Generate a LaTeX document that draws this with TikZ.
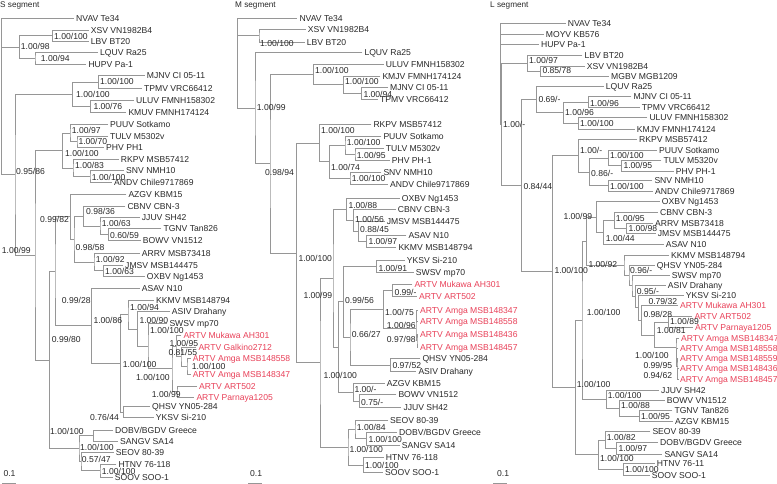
\documentclass[tikz,border=0pt]{standalone}
\usepackage{fontspec}
\setmainfont{Liberation Sans}
\usetikzlibrary{calc}
\definecolor{txt}{RGB}{40,40,40}
\definecolor{brc}{RGB}{150,150,150}
\definecolor{artv}{RGB}{232,64,88}
\tikzset{
 tiplab/.style={anchor=base west, inner sep=0pt, font=\fontsize{8.6}{9}\selectfont, text=txt},
 suplab/.style={anchor=base west, inner sep=0pt, font=\fontsize{8.6}{9}\selectfont, text=txt},
 artvlab/.style={text=artv},
 ttl/.style={anchor=base west, inner sep=0pt, font=\fontsize{8.2}{9}\selectfont, text=txt},
 br/.style={draw=brc, line width=0.7pt},
}
\newcommand\mytip[5][]{\coordinate (#2) at ({#3-2},#4);\node[tiplab,#1] (#2l) at (#3,{#4+3.1}) {#5};}
\newcommand\mylab[4]{\node[suplab] (#1) at (#2,{#3+3.1}) {#4};}
\newcommand\mynode[4]{\path let \p1=($(#3)!.5!(#4)$) in (#2pt,\y1) coordinate (#1);\draw[br] (#3) -| (#1) |- (#4);}
\begin{document}
\begin{tikzpicture}[x=1pt,y=-1pt]
\useasboundingbox (0,0) rectangle (777,484);
% titles
\node[ttl] (tS) at (0,7.7) {S segment};
\node[ttl] (tM) at (235,7.7) {M segment};
\node[ttl] (tL) at (490,7.7) {L segment};
% ===== S tips
\mytip{S0}{76}{18.3}{NVAV Te34}
\mytip{S1}{90.7}{30}{XSV VN1982B4}
\mytip{S2}{90.7}{41.7}{LBV BT20}
\mytip{S3}{100}{52.7}{LQUV Ra25}
\mytip{S4}{88.3}{64}{HUPV Pa-1}
\mytip{S5}{146.7}{75.7}{MJNV CI 05-11}
\mytip{S6}{144}{88.3}{TPMV VRC66412}
\mytip{S7}{136}{100}{ULUV FMNH158302}
\mytip{S8}{128.3}{112.3}{KMUV FMNH174124}
\mytip{S9}{110}{124.7}{PUUV Sotkamo}
\mytip{S10}{110}{136}{TULV M5302v}
\mytip{S11}{106}{147.3}{PHV PH1}
\mytip{S12}{120.7}{159.3}{RKPV MSB57412}
\mytip{S13}{126}{170.7}{SNV NMH10}
\mytip{S14}{114}{182.7}{ANDV Chile9717869}
\mytip{S15}{128.3}{194}{AZGV KBM15}
\mytip{S16}{127.3}{206}{CBNV CBN-3}
\mytip{S17}{141.7}{217.3}{JJUV SH42}
\mytip{S18}{163.3}{228.7}{TGNV Tan826}
\mytip{S19}{142.7}{240.7}{BOWV VN1512}
\mytip{S20}{141.7}{253.3}{ARRV MSB73418}
\mytip{S21}{125}{265}{JMSV MSB144475}
\mytip{S22}{146.7}{276}{OXBV Ng1453}
\mytip{S23}{141.7}{288.3}{ASAV N10}
\mytip{S24}{156}{300}{KKMV MSB148794}
\mytip{S25}{171.7}{311.7}{ASIV Drahany}
\mytip{S26}{169.3}{323.3}{SWSV mp70}
\mytip[artvlab]{S27}{183.3}{335}{ARTV Mukawa AH301}
\mytip[artvlab]{S28}{198.3}{347.3}{ARTV Galkino2712}
\mytip[artvlab]{S29}{192.7}{358.3}{ARTV Amga MSB148558}
\mytip[artvlab]{S30}{192.7}{374}{ARTV Amga MSB148347}
\mytip[artvlab]{S31}{199}{386}{ARTV ART502}
\mytip[artvlab]{S32}{196.3}{397.3}{ARTV Parnaya1205}
\mytip{S33}{152}{406.7}{QHSV YN05-284}
\mytip{S34}{155.7}{417.7}{YKSV Si-210}
\mytip{S35}{115}{430}{DOBV/BGDV Greece}
\mytip{S36}{120}{441}{SANGV SA14}
\mytip{S37}{115.7}{452.7}{SEOV 80-39}
\mytip{S38}{118.3}{464}{HTNV 76-118}
\mytip{S39}{114.7}{477.3}{SOOV SOO-1}
% S tree
\mynode{NSa}{52.3}{S1}{S2}
\mynode{NSb}{35}{S3}{S4}
\mynode{NSc}{19.3}{NSa}{NSb}
\mynode{NSd}{98.3}{S5}{S6}
\mynode{NSe}{90.7}{S7}{S8}
\mynode{NSf}{72.3}{NSd}{NSe}
\mynode{NSg}{77}{S10}{S11}
\mynode{NSh}{70}{S9}{NSg}
\mynode{NSi}{90}{S13}{S14}
\mynode{NSj}{73}{S12}{NSi}
\mynode{NSk}{62.7}{NSh}{NSj}
\mynode{NSl}{108.5}{S18}{S19}
\mynode{NSm}{100}{S17}{NSl}
\mynode{NSn}{83.3}{S16}{NSm}
\mynode{NSq}{103.5}{S21}{S22}
\mynode{NSp}{94}{S20}{NSq}
\mynode{NSX}{74}{NSn}{NSp}
\mynode{NSo}{70.5}{S15}{NSX}
\mynode{NSsa}{187}{S29}{S30}
\mynode{NSsb}{181}{S28}{NSsa}
\mynode{NSsc}{176}{S27}{NSsb}
\mynode{NSsd}{177}{S31}{S32}
\mynode{NSse}{172}{NSsc}{NSsd}
\mynode{NSsf}{148}{S26}{NSse}
\mynode{NSsg}{137.5}{S25}{NSsf}
\mynode{NSsh}{128}{S24}{NSsg}
\mynode{NSt}{123.3}{S33}{S34}
\mynode{NSsi}{120.5}{NSsh}{NSt}
\mynode{NSY}{91.5}{S23}{NSsi}
\mynode{NSW}{55}{NSo}{NSY}
\mynode{NSda}{93.3}{S35}{S36}
\mynode{NSdc}{100}{S38}{S39}
\mynode{NSdb}{81}{S37}{NSdc}
\mynode{NSdd}{79}{NSda}{NSdb}
\mynode{NSP2}{49.3}{NSW}{NSdd}
\mynode{NSP1}{35}{NSk}{NSP2}
\mynode{NSP0}{15}{NSf}{NSP1}
\coordinate (NSR) at (1.7,100);
\draw[br] (NSR) |- (S0) (NSR) |- (NSc) (NSR) |- (NSP0);
% S labels
\mylab{sa}{54}{36}{1.00/100}
\mylab{sb}{20.7}{46.7}{1.00/98}
\mylab{sc}{40.7}{58.3}{1.00/94}
\mylab{sd}{100}{81.7}{1.00/100}
\mylab{se}{76}{94}{1.00/100}
\mylab{sf}{93.3}{106}{1.00/76}
\mylab{sg}{71.7}{130.7}{1.00/97}
\mylab{sh}{78.3}{141.7}{1.00/70}
\mylab{si}{65}{153.3}{1.00/100}
\mylab{sj}{75}{165.7}{1.00/83}
\mylab{sk}{91.7}{177.3}{1.00/100}
\mylab{sl}{16}{171.7}{0.95/86}
\mylab{sm}{40}{219.3}{0.99/82}
\mylab{sn}{86}{211.7}{0.98/36}
\mylab{so}{101.7}{223.3}{1.00/63}
\mylab{sp}{110}{235}{0.60/59}
\mylab{sq}{75.5}{247}{0.98/58}
\mylab{sr}{1.7}{250.7}{1.00/99}
\mylab{ss}{95.7}{259}{1.00/92}
\mylab{st}{105}{271.7}{1.00/63}
\mylab{su}{61.7}{300}{0.99/28}
\mylab{sv}{130}{307.3}{1.00/94}
\mylab{sw}{93.3}{320}{1.00/86}
\mylab{sx}{139.3}{320}{1.00/90}
\mylab{sy}{150}{330}{1.00/100}
\mylab{sz}{169.3}{343.3}{1.00/95}
\mylab{sA}{168.3}{352.7}{0.81/55}
\mylab{sB}{191.7}{366}{1.00/100}
\mylab{sC}{51.7}{339}{0.99/80}
\mylab{sD}{122.7}{364.7}{1.00/100}
\mylab{sE}{136}{377.3}{1.00/100}
\mylab{sF}{151.7}{394.7}{1.00/99}
\mylab{sG}{90}{417.7}{0.76/44}
\mylab{sH}{50}{431}{1.00/100}
\mylab{sI}{80}{447.3}{1.00/100}
\mylab{sJ}{81.7}{459.3}{0.57/47}
\mylab{sK}{101.7}{471}{1.00/100}
% ===== M tips
\mytip{M0}{299.3}{18.3}{NVAV Te34}
\mytip{M1}{307.7}{29.3}{XSV VN1982B4}
\mytip{M2}{306.7}{42.3}{LBV BT20}
\mytip{M3}{364.3}{52.7}{LQUV Ra25}
\mytip{M4}{385.7}{64.3}{ULUV FMNH158302}
\mytip{M5}{382.3}{76}{KMJV FMNH174124}
\mytip{M6}{390}{87.3}{MJNV CI 05-11}
\mytip{M7}{380}{99}{TPMV VRC66412}
\mytip{M8}{373.3}{124.7}{RKPV MSB57412}
\mytip{M9}{383.3}{136}{PUUV Sotkamo}
\mytip{M10}{385.7}{148.3}{TULV M5302v}
\mytip{M11}{391.7}{160}{PHV PH-1}
\mytip{M12}{383.3}{172.3}{SNV NMH10}
\mytip{M13}{390}{184}{ANDV Chile9717869}
\mytip{M14}{401.7}{198}{OXBV Ng1453}
\mytip{M15}{397.7}{209.5}{CBNV CBN-3}
\mytip{M16}{386.7}{221}{JMSV MSB144475}
\mytip{M17}{408.3}{235}{ASAV N10}
\mytip{M18}{398.3}{247.3}{KKMV MSB148794}
\mytip{M19}{406.7}{260}{YKSV Si-210}
\mytip{M20}{415.7}{272.7}{SWSV mp70}
\mytip[artvlab]{M21}{414.3}{284}{ARTV Mukawa AH301}
\mytip[artvlab]{M22}{419}{296}{ARTV ART502}
\mytip[artvlab]{M23}{420}{310.7}{ARTV Amga MSB148347}
\mytip[artvlab]{M24}{420}{321.7}{ARTV Amga MSB148558}
\mytip[artvlab]{M25}{420}{334.3}{ARTV Amga MSB148436}
\mytip[artvlab]{M26}{420}{347.3}{ARTV Amga MSB148457}
\mytip{M27}{422.3}{358.3}{QHSV YN05-284}
\mytip{M28}{418.3}{371.7}{ASIV Drahany}
\mytip{M29}{386.7}{383.3}{AZGV KBM15}
\mytip{M30}{398.3}{394.3}{BOWV VN1512}
\mytip{M31}{403.3}{407.7}{JJUV SH42}
\mytip{M32}{390}{420}{SEOV 80-39}
\mytip{M33}{399}{432.3}{DOBV/BGDV Greece}
\mytip{M34}{401.7}{445}{SANGV SA14}
\mytip{M35}{385.7}{457.3}{HTNV 76-118}
\mytip{M36}{385}{472.7}{SOOV SOO-1}
% M tree
\mynode{NMa}{259}{M1}{M2}
\mynode{NMf}{361.7}{M6}{M7}
\mynode{NMe}{343.3}{M5}{NMf}
\mynode{NMd}{313.3}{M4}{NMe}
\mynode{NMjj}{355}{M10}{M11}
\mynode{NMj}{345}{M9}{NMjj}
\mynode{NMk}{350}{M12}{M13}
\mynode{NMi}{329.5}{NMj}{NMk}
\mynode{NMh}{319.3}{M8}{NMi}
\mynode{NMna}{366.8}{M17}{M18}
\mynode{NMnb}{358.5}{M16}{NMna}
\mynode{NMnc}{353.5}{M15}{NMnb}
\mynode{NMnd}{346.8}{M14}{NMnc}
\mynode{NMI}{376.8}{M19}{M20}
\mynode{NMMA}{392.8}{M21}{M22}
\mynode{NMGa}{416.5}{M23}{M24}
\mynode{NMGb}{417}{M25}{M26}
\mynode{NMG}{416}{NMGa}{NMGb}
\mynode{NMJ}{383.5}{NMMA}{NMG}
\mynode{NMK}{390.8}{M27}{M28}
\mynode{NMD}{350}{NMJ}{NMK}
\mynode{NMC}{343.5}{NMI}{NMD}
\mynode{NMBJ}{359.5}{M30}{M31}
\mynode{NMAZ}{353.3}{M29}{NMBJ}
\mynode{NMCx}{338.3}{NMC}{NMAZ}
\mynode{NMBp}{333}{NMnd}{NMCx}
\mynode{NMDS}{366.7}{M33}{M34}
\mynode{NMDE}{355}{M32}{NMDS}
\mynode{NMDH}{363.3}{M35}{M36}
\mynode{NMDO}{348}{NMDE}{NMDH}
\mynode{NME}{320}{NMBp}{NMDO}
\mynode{NMA}{296.7}{NMh}{NME}
\mynode{NMMb}{270}{NMd}{NMA}
\mynode{NMb}{255}{M3}{NMMb}
\coordinate (NMR) at (237.7,40);
\draw[br] (NMR) |- (M0) (NMR) |- (NMa) (NMR) |- (NMb);
% M labels
\mylab{ma}{260}{43.3}{1.00/100}
\mylab{mb}{315}{70}{1.00/100}
\mylab{mc}{345}{81.7}{1.00/100}
\mylab{md}{363.3}{94.3}{1.00/94}
\mylab{me}{256.7}{107.7}{1.00/99}
\mylab{mf}{321}{130.7}{1.00/100}
\mylab{mg}{346.7}{142.7}{1.00/100}
\mylab{mh}{356.7}{155}{1.00/95}
\mylab{mi}{331}{167.3}{1.00/74}
\mylab{mj}{351.7}{178.3}{1.00/100}
\mylab{mk}{265}{172.7}{0.98/94}
\mylab{ml}{348.3}{205}{1.00/88}
\mylab{mm}{355}{219}{1.00/56}
\mylab{mn}{360}{229}{0.88/45}
\mylab{mo}{368.3}{241.7}{1.00/97}
\mylab{mp}{298.3}{258.3}{1.00/100}
\mylab{mq}{378.3}{268.3}{1.00/91}
\mylab{mr}{303.3}{295}{1.00/99}
\mylab{ms}{345}{300}{0.99/56}
\mylab{mt}{394.3}{292.7}{0.99/-}
\mylab{mu}{385}{312.7}{1.00/75}
\mylab{mv}{386.7}{325}{1.00/96}
\mylab{mw}{351.7}{334.3}{0.66/27}
\mylab{mx}{386.7}{339}{0.97/98}
\mylab{my}{392.3}{365}{0.97/52}
\mylab{mz}{323.3}{375}{1.00/100}
\mylab{mA}{354.3}{389.3}{1.00/-}
\mylab{mB}{361}{402.7}{0.75/-}
\mylab{mC}{356.7}{427.3}{1.00/84}
\mylab{mD}{368.3}{439}{1.00/100}
\mylab{mE}{349.3}{449.3}{1.00/100}
\mylab{mF}{365}{465}{1.00/100}
% ===== L tips
\mytip{L0}{567.7}{23.3}{NVAV Te34}
\mytip{L1}{545.7}{34}{MOYV KB576}
\mytip{L2}{541}{44}{HUPV Pa-1}
\mytip{L3}{584.3}{55}{LBV BT20}
\mytip{L4}{586.7}{66}{XSV VN1982B4}
\mytip{L5}{611}{76}{MGBV MGB1209}
\mytip{L6}{605.7}{86.7}{LQUV Ra25}
\mytip{L7}{633.3}{96.7}{MJNV CI 05-11}
\mytip{L8}{641.7}{107.3}{TPMV VRC66412}
\mytip{L9}{649.3}{117.3}{ULUV FMNH158302}
\mytip{L10}{636.7}{129.3}{KMJV FMNH174124}
\mytip{L11}{639}{139.3}{RKPV MSB57412}
\mytip{L12}{659}{150}{PUUV Sotkamo}
\mytip{L13}{663.3}{160}{TULV M5320v}
\mytip{L14}{675.7}{171.7}{PHV PH-1}
\mytip{L15}{654.3}{180}{SNV NMH10}
\mytip{L16}{655}{191.7}{ANDV Chile9717869}
\mytip{L17}{661.7}{201.7}{OXBV Ng1453}
\mytip{L18}{660}{212.7}{CBNV CBN-3}
\mytip{L19}{655}{223.3}{ARRV MSB73418}
\mytip{L20}{657.7}{233.3}{JMSV MSB144475}
\mytip{L21}{665.7}{244}{ASAV N10}
\mytip{L22}{671}{255}{KKMV MSB148794}
\mytip{L23}{656.7}{265}{QHSV YN05-284}
\mytip{L24}{671.7}{275}{SWSV mp70}
\mytip{L25}{667.7}{285.7}{ASIV Drahany}
\mytip{L26}{685.7}{295}{YKSV Si-210}
\mytip[artvlab]{L27}{680}{305}{ARTV Mukawa AH301}
\mytip[artvlab]{L28}{694.3}{316.7}{ARTV ART502}
\mytip[artvlab]{L29}{695}{327.3}{ARTV Parnaya1205}
\mytip[artvlab]{L30}{681}{338.3}{ARTV Amga MSB148347}
\mytip[artvlab]{L31}{680}{348.3}{ARTV Amga MSB148558}
\mytip[artvlab]{L32}{680}{358.3}{ARTV Amga MSB148559}
\mytip[artvlab]{L33}{680}{368.3}{ARTV Amga MSB148436}
\mytip[artvlab]{L34}{680}{379}{ARTV Amga MSB148457}
\mytip{L35}{661}{390}{JJUV SH42}
\mytip{L36}{666.7}{400.7}{BOWV VN1512}
\mytip{L37}{674.3}{410.7}{TGNV Tan826}
\mytip{L38}{675}{421.7}{AZGV KBM15}
\mytip{L39}{652.3}{431.7}{SEOV 80-39}
\mytip{L40}{660}{442.7}{DOBV/BGDV Greece}
\mytip{L41}{664.3}{454}{SANGV SA14}
\mytip{L42}{656.7}{463.3}{HTNV 76-11}
\mytip{L43}{651.7}{475}{SOOV SOO-1}
% L tree
\mynode{NLab}{540.8}{L4}{L5}
\mynode{NLaa}{527.7}{L3}{NLab}
\mynode{NLf}{588.5}{L7}{L8}
\mynode{NLg}{578.5}{L9}{L10}
\mynode{NLe}{563.5}{NLf}{NLg}
\mynode{NLb}{536.8}{L6}{NLe}
\mynode{NLhd}{621.8}{L13}{L14}
\mynode{NLhc}{608.5}{L12}{NLhd}
\mynode{NLhe}{608.5}{L15}{L16}
\mynode{NLhb}{589.5}{NLhc}{NLhe}
\mynode{NLha}{578.5}{L11}{NLhb}
\mynode{NLcd}{626.8}{L19}{L20}
\mynode{NLcc}{614.2}{L18}{NLcd}
\mynode{NLcb}{603.5}{NLcc}{L21}
\mynode{NLca}{596.7}{L17}{NLcb}
\mynode{NLmd}{677.5}{L33}{L34}
\mynode{NLmc}{677}{L32}{NLmd}
\mynode{NLmb}{676.5}{L31}{NLmc}
\mynode{NLma}{676}{L30}{NLmb}
\mynode{NLrp}{668.5}{L28}{L29}
\mynode{NLqa}{654.3}{NLrp}{NLma}
\mynode{NLqb}{641.7}{L27}{NLqa}
\mynode{NLqc}{638.5}{L26}{NLqb}
\mynode{NLkd}{635.2}{L25}{NLqc}
\mynode{NLkc}{632}{L24}{NLkd}
\mynode{NLkb}{629}{L23}{NLkc}
\mynode{NLka}{624}{L22}{NLkb}
\mynode{NLx}{586.8}{NLca}{NLka}
\mynode{NLjc}{639.5}{L37}{L38}
\mynode{NLjb}{619.5}{L36}{NLjc}
\mynode{NLja}{606.2}{L35}{NLjb}
\mynode{NLy}{582}{NLx}{NLja}
\mynode{NLdc}{616.8}{L40}{L41}
\mynode{NLdb}{605.2}{L39}{NLdc}
\mynode{NLdd}{623.5}{L42}{L43}
\mynode{NLda}{598.5}{NLdb}{NLdd}
\mynode{NLz}{575.2}{NLy}{NLda}
\mynode{NLd}{552.8}{NLha}{NLz}
\mynode{NLc}{521.8}{NLb}{NLd}
\mynode{NLa}{501.3}{NLaa}{NLc}
\coordinate (NLR) at (500,60);
\draw[br] (NLR) |- (L0) (NLR) |- (L1) (NLR) |- (L2) (NLR) |- (NLa);
% L labels
\mylab{la}{529}{60}{1.00/97}
\mylab{lb}{542.3}{70.7}{0.85/78}
\mylab{lc}{538.3}{99.3}{0.69/-}
\mylab{ld}{590}{103.3}{1.00/96}
\mylab{le}{565}{112.7}{1.00/96}
\mylab{lf}{580}{123.3}{1.00/100}
\mylab{lg}{503}{124}{1.00/-}
\mylab{lh}{580}{150}{1.00/-}
\mylab{li}{610}{155}{1.00/100}
\mylab{lj}{623.3}{165.7}{1.00/95}
\mylab{lk}{591}{173.3}{0.86/-}
\mylab{ll}{610}{186.7}{1.00/100}
\mylab{lm}{523.3}{186}{0.84/44}
\mylab{ln}{563.3}{216.7}{1.00/99}
\mylab{lo}{615.7}{218.3}{1.00/95}
\mylab{lp}{628.3}{228.3}{1.00/98}
\mylab{lq}{605.7}{238.3}{1.00/44}
\mylab{lr}{554.3}{270}{1.00/100}
\mylab{ls}{588.3}{264}{1.00/92}
\mylab{lt}{630}{270}{0.96/-}
\mylab{lu}{636.7}{291.7}{0.95/-}
\mylab{lv}{648.3}{301}{0.79/32}
\mylab{lw}{643.3}{314}{0.98/28}
\mylab{lx}{670}{321.7}{1.00/89}
\mylab{ly}{656.7}{330}{1.00/81}
\mylab{lz}{586.7}{312.7}{1.00/100}
\mylab{lA}{635}{355}{1.00/100}
\mylab{lB}{643.3}{365.7}{0.99/95}
\mylab{lC}{643.3}{375.7}{0.94/62}
\mylab{lD}{576.7}{384}{1.00/100}
\mylab{lE}{607.7}{395.7}{1.00/100}
\mylab{lF}{621}{405}{1.00/88}
\mylab{lG}{641}{416.7}{1.00/95}
\mylab{lH}{606.7}{437.3}{1.00/82}
\mylab{lI}{618.3}{448.3}{1.00/97}
\mylab{lJ}{600}{458.3}{1.00/100}
\mylab{lK}{625}{469.3}{1.00/100}
% scale bars
\mylab{scS}{3.3}{473.3}{0.1}
\mylab{scM}{250}{473.3}{0.1}
\mylab{scL}{497}{473.3}{0.1}
\coordinate (sS1) at (2,483); \coordinate (sS2) at (16,483);
\coordinate (sM1) at (248,483); \coordinate (sM2) at (262,483);
\coordinate (sL1) at (493,483); \coordinate (sL2) at (507,483);
\draw[br] (sS1) -- (sS2); \draw[br] (sM1) -- (sM2); \draw[br] (sL1) -- (sL2);
\end{tikzpicture}
\end{document}
